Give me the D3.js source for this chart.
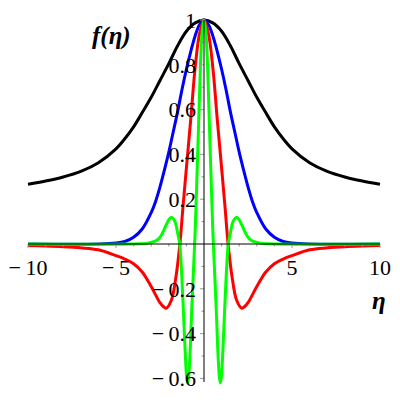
<!DOCTYPE html>
<html>
<head>
<meta charset="utf-8">
<script src="https://cdn.jsdelivr.net/npm/d3@7"></script>
<style>
  body { margin: 0; background: #fff; }
  svg { display: block; }
</style>
</head>
<body>
<svg id="chart" width="400" height="400"></svg>
<script>
// ------------------------------
// DONNEES
// ------------------------------
const etaBlack = [-10, -9, -8, -7, -6, -5, -4.5, -4, -3.5, -3, -2.5, -2, -1.5, -1, -0.5, 0,
  0.5, 1, 1.5, 2, 2.5, 3, 3.5, 4, 4.5, 5, 6, 7, 8, 9, 10];
const fBlack = [0.267, 0.281, 0.299, 0.324, 0.363, 0.425, 0.47, 0.523, 0.588, 0.655, 0.73, 0.805, 0.885, 0.95, 0.987, 1,
  0.987, 0.95, 0.885, 0.805, 0.73, 0.655, 0.588, 0.523, 0.47, 0.425, 0.363, 0.324, 0.299, 0.281, 0.267];

const etaBlue = [-10, -6, -5, -4.5, -4, -3.5, -3, -2.75, -2.5, -2.25, -2, -1.75, -1.5, -1.25, -1, -0.75, -0.5, -0.25, 0,
  0.25, 0.5, 0.75, 1, 1.25, 1.5, 1.75, 2, 2.25, 2.5, 2.75, 3, 3.5, 4, 4.5, 5, 6, 10];
const fBlue = [0, 0, 0.004, 0.011, 0.03, 0.068, 0.14, 0.19, 0.255, 0.33, 0.41, 0.50, 0.59, 0.69, 0.78, 0.86, 0.93, 0.98, 1,
  0.98, 0.93, 0.86, 0.78, 0.69, 0.59, 0.50, 0.41, 0.33, 0.255, 0.19, 0.14, 0.068, 0.03, 0.011, 0.004, 0, 0];

const etaRed = [-10, -9, -8, -7, -6, -5, -4.5, -4, -3.5, -3, -2.5, -2.3, -2.15, -1.85, -1.6, -1.37, -1.2, -1, -0.75, -0.5, -0.25, 0,
  0.25, 0.5, 0.75, 1, 1.2, 1.37, 1.6, 1.85, 2.15, 2.3, 2.5, 3, 3.5, 4, 4.5, 5, 6, 7, 8, 9, 10];
const fRed = [-0.007, -0.009, -0.012, -0.017, -0.026, -0.052, -0.067, -0.088, -0.126, -0.19, -0.262, -0.28, -0.287, -0.25, -0.15, 0, 0.16, 0.34, 0.56, 0.79, 0.94, 1,
  0.94, 0.79, 0.56, 0.34, 0.16, 0, -0.15, -0.25, -0.287, -0.28, -0.262, -0.19, -0.126, -0.088, -0.067, -0.052, -0.026, -0.017, -0.012, -0.009, -0.007];

const etaGreen = [-10, -3.6, -3.2, -2.8, -2.55, -2.35, -2.15, -2, -1.85, -1.65, -1.5, -1.38, -1.27, -1.17, -1.07, -0.99, -0.93, -0.88, -0.8, -0.7, -0.6, -0.5, -0.4, -0.3, -0.2, -0.1, 0,
  0.1, 0.2, 0.3, 0.4, 0.5, 0.6, 0.7, 0.8, 0.88, 0.93, 0.99, 1.07, 1.17, 1.27, 1.38, 1.5, 1.65, 1.85, 2, 2.15, 2.35, 2.55, 2.8, 3.2, 3.6, 10];
const fGreen = [0, 0.001, 0.004, 0.012, 0.025, 0.05, 0.085, 0.108, 0.12, 0.1, 0.05, 0, -0.13, -0.3, -0.48, -0.59, -0.62, -0.6, -0.5, -0.3, -0.12, 0.06, 0.3, 0.55, 0.8, 0.95, 1,
  0.95, 0.8, 0.55, 0.3, 0.06, -0.12, -0.3, -0.5, -0.6, -0.62, -0.59, -0.48, -0.3, -0.13, 0, 0.05, 0.1, 0.12, 0.108, 0.085, 0.05, 0.025, 0.012, 0.004, 0.001, 0];

const xTicks = [-10, -5, 5, 10];
const yTicks = [1, 0.8, 0.6, 0.4, 0.2, -0.2, -0.4, -0.6];

const serif = "Liberation Serif";

// ------------------------------
// ECHELLES
// ------------------------------
const svg = d3.select("#chart");
const x = d3.scaleLinear().domain([-10, 10]).range([28, 380]);
const y = d3.scaleLinear().domain([-0.616, 1]).range([382, 20]);

// ------------------------------
// COURBES
// ------------------------------
const series = [
  { eta: etaBlack, f: fBlack, color: "#000000" },
  { eta: etaBlue, f: fBlue, color: "#0000ff" },
  { eta: etaRed, f: fRed, color: "#ff0000" },
  { eta: etaGreen, f: fGreen, color: "#00ff00" }
];

const line = d3.line()
  .x(d => x(d[0]))
  .y(d => y(d[1]))
  .curve(d3.curveCatmullRom.alpha(0.5));

series.forEach(s => {
  svg.append("path")
    .datum(s.eta.map((e, i) => [e, s.f[i]]))
    .attr("fill", "none")
    .attr("stroke", s.color)
    .attr("stroke-width", 3)
    .attr("stroke-linejoin", "round")
    .attr("d", line);
});

// ------------------------------
// AXES (croisés à l'origine)
// ------------------------------
const fmt = v => (v < 0 ? "\u2212\u2009" : "") + Math.abs(v);

// graduations
const xMinor = d3.range(-10, 11, 1).filter(v => v !== 0);
svg.selectAll(".xminor").data(xMinor).enter().append("line")
  .attr("x1", d => x(d)).attr("x2", d => x(d))
  .attr("y1", y(0)).attr("y2", d => y(0) + (d % 5 === 0 ? 4 : 2.5))
  .attr("stroke", "#999").attr("stroke-width", 1);

const yMinor = d3.range(-6, 11, 1).filter(v => v !== 0).map(v => v / 10);
svg.selectAll(".yminor").data(yMinor).enter().append("line")
  .attr("x1", x(0)).attr("x2", d => x(0) - (Math.round(d * 10) % 2 === 0 ? 4 : 2.5))
  .attr("y1", d => y(d)).attr("y2", d => y(d))
  .attr("stroke", "#999").attr("stroke-width", 1);

svg.append("line")
  .attr("x1", x(-10)).attr("x2", x(10))
  .attr("y1", y(0)).attr("y2", y(0))
  .attr("stroke", "#000").attr("stroke-width", 1);
svg.append("line")
  .attr("x1", x(0)).attr("x2", x(0))
  .attr("y1", y(1)).attr("y2", y(-0.616))
  .attr("stroke", "#000").attr("stroke-width", 1);

svg.selectAll(".xlab").data(xTicks).enter().append("text")
  .style("font-family", serif).style("font-size", "22px")
  .attr("x", d => x(d))
  .attr("y", 275)
  .attr("text-anchor", "middle")
  .text(fmt);

svg.selectAll(".ylab").data(yTicks).enter().append("text")
  .style("font-family", serif).style("font-size", "22px")
  .attr("x", x(0) - 8)
  .attr("y", d => y(d))
  .attr("dy", "0.35em")
  .attr("text-anchor", "end")
  .text(fmt);

svg.append("text")
  .style("font-family", serif).style("font-size", "25px")
  .style("font-weight", "bold").style("font-style", "italic")
  .attr("x", 92).attr("y", 44)
  .text("f(\u03b7)");
svg.append("text")
  .style("font-family", serif).style("font-size", "25px")
  .style("font-weight", "bold").style("font-style", "italic")
  .attr("x", 372).attr("y", 309)
  .text("\u03b7");
</script>
</body>
</html>
